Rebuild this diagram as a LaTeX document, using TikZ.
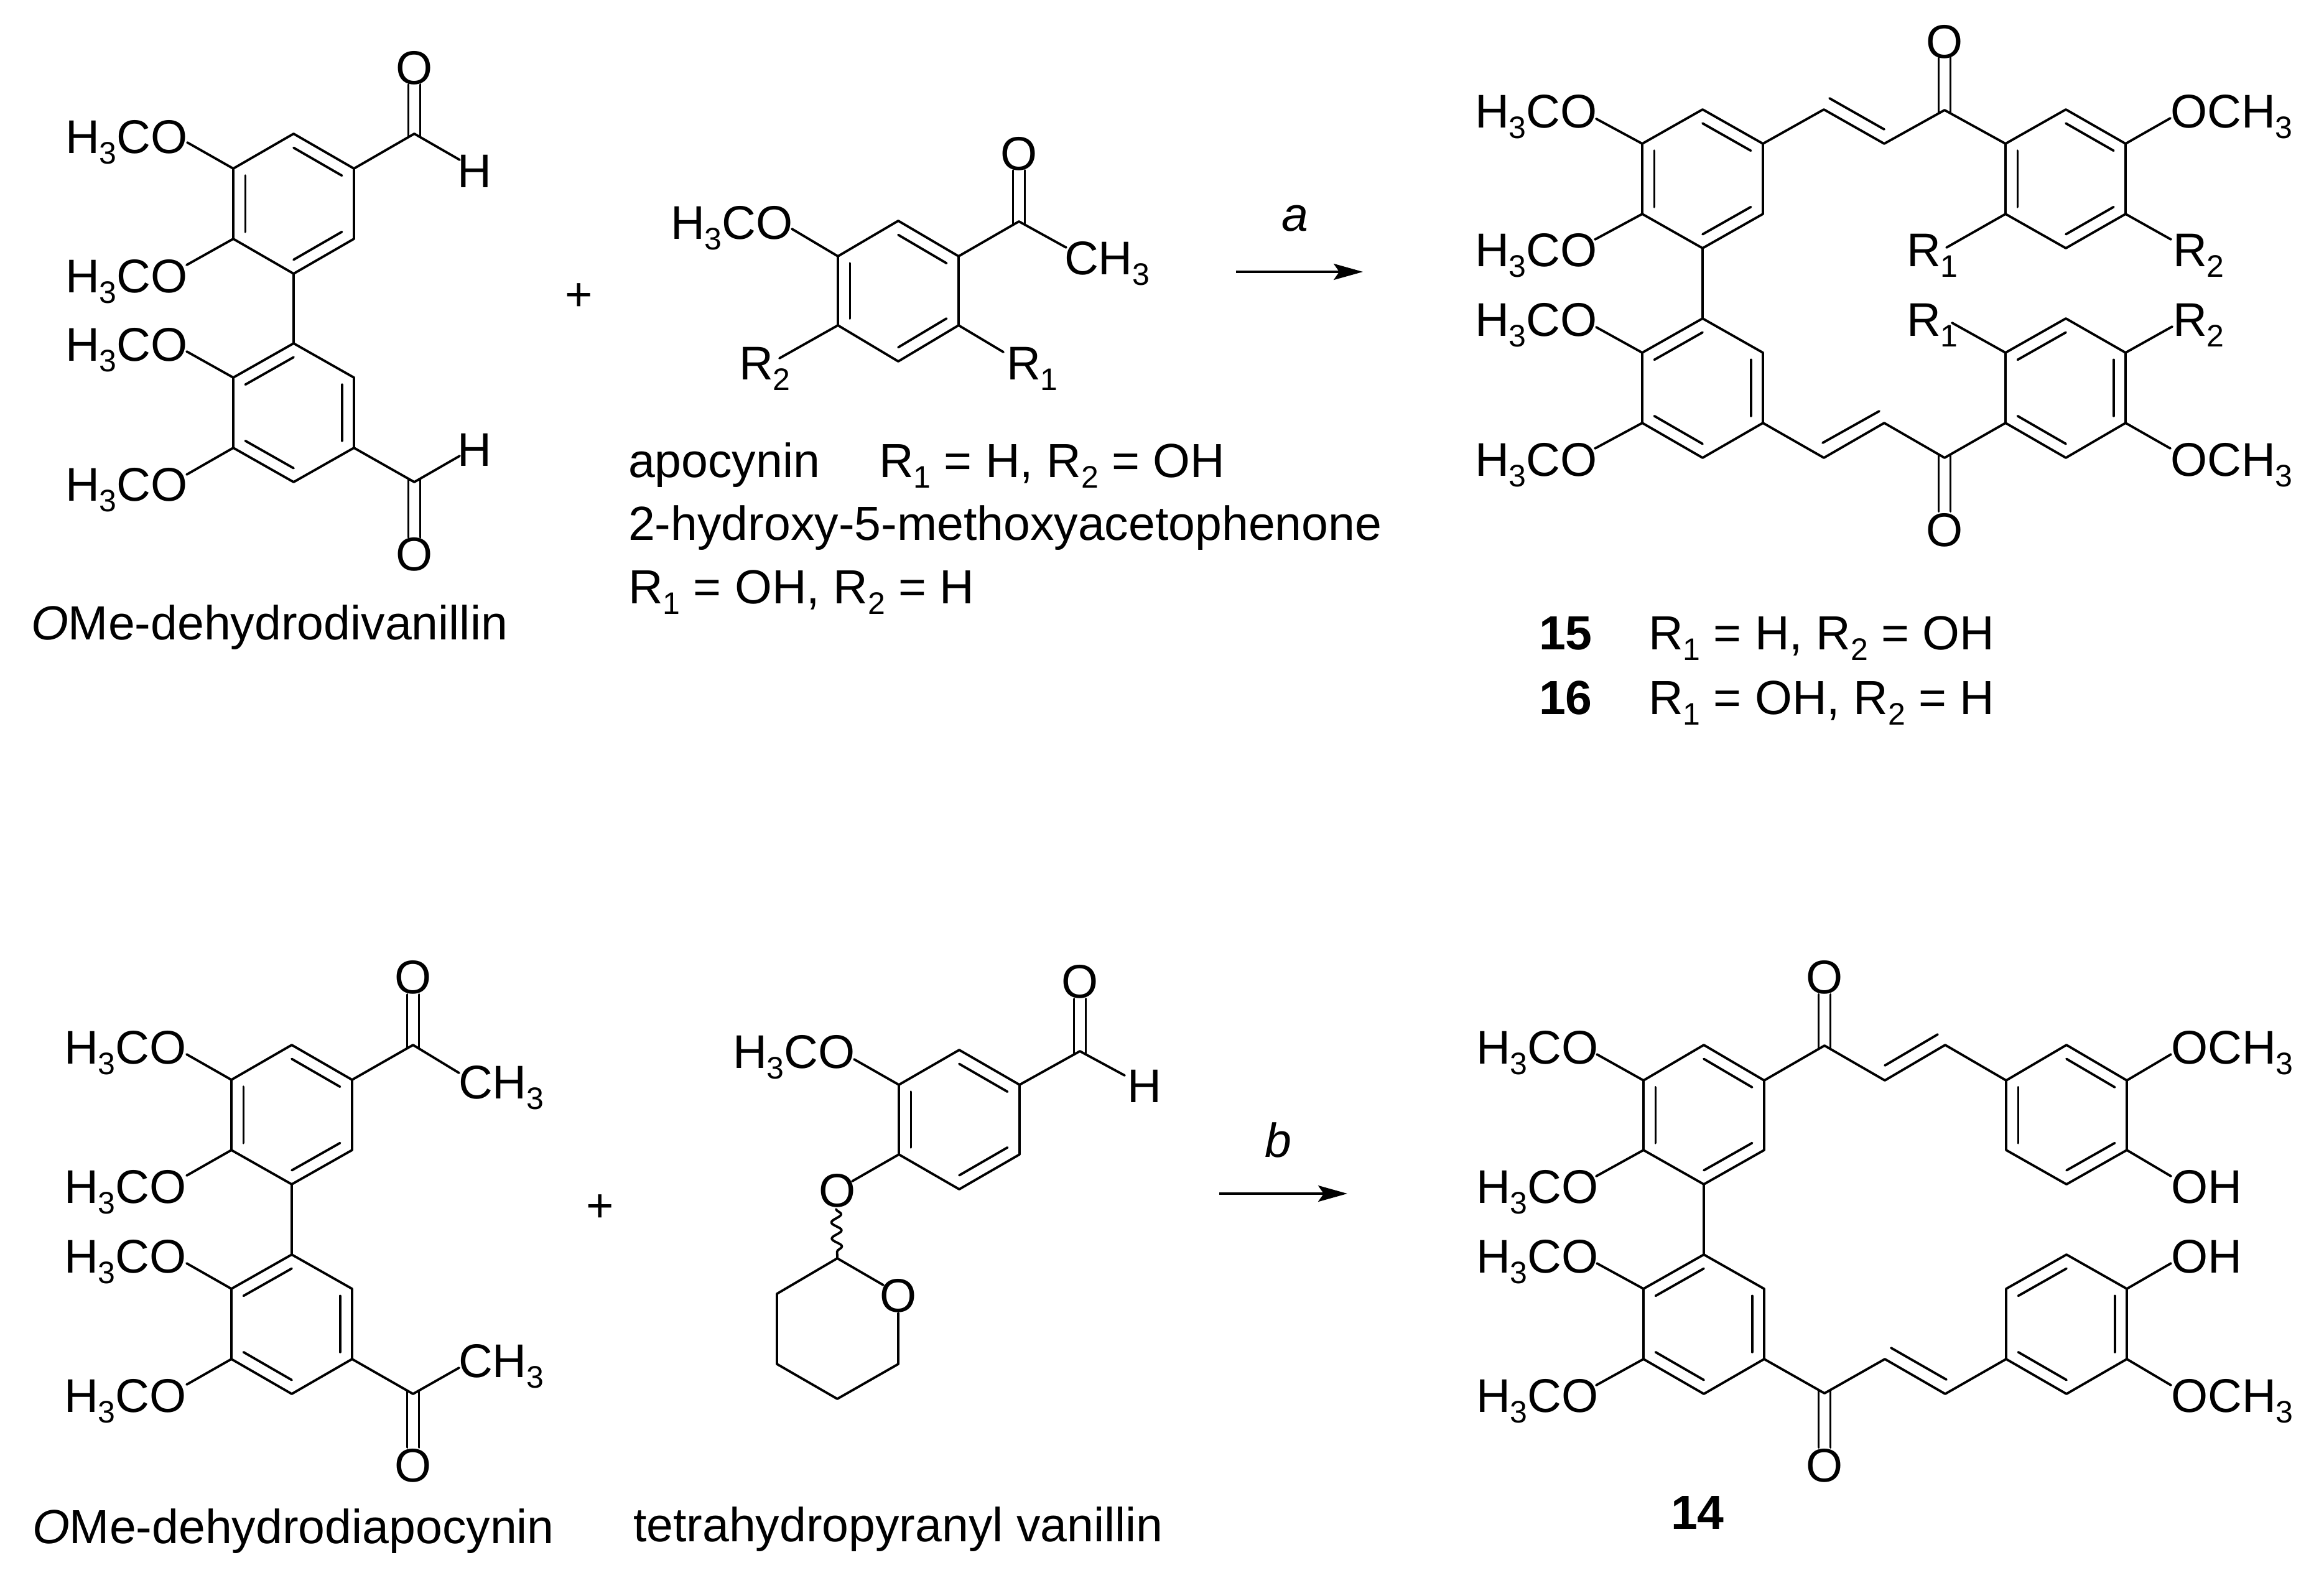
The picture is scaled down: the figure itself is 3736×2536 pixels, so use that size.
\documentclass[tikz,border=0pt]{standalone}
\usepackage{fontspec}
\setmainfont{Liberation Sans}
\usetikzlibrary{calc,arrows.meta,decorations.pathmorphing}
\newcommand{\subn}[1]{\raisebox{-17pt}{\fontsize{50}{50}\selectfont #1}}
\newcommand{\MeO}{H\subn{3}CO}
\newcommand{\OMe}{OCH\subn{3}}
\newcommand{\Rone}{R\subn{1}}
\newcommand{\Rtwo}{R\subn{2}}
\newcommand{\hexa}[8]{%
  \coordinate (#11) at (#3,#5);\coordinate (#12) at (#4,#6);\coordinate (#13) at (#4,#7);
  \coordinate (#14) at (#3,#8);\coordinate (#15) at (#2,#7);\coordinate (#16) at (#2,#6);
  \coordinate (#1c) at ({#3},{(#5+#8)/2});
  \draw[bond] (#11)--(#12)--(#13)--(#14)--(#15)--(#16)--cycle;}
\newcommand{\rdb}[3]{\draw[bond] ($(#1#2)!0.2!(#1c)$) -- ($(#1#3)!0.2!(#1c)$);}
\newcommand{\threedb}[1]{\rdb{#1}{1}{2}\rdb{#1}{6}{5}\rdb{#1}{3}{4}}
\newcommand{\threedc}[1]{\rdb{#1}{1}{6}\rdb{#1}{2}{3}\rdb{#1}{4}{5}}
\newcommand{\lab}[4]{\node[lab] (#1) at (#2,#3) {#4};}
\newcommand{\atom}[4]{\node[atm] (#1) at (#2,#3) {#4};}
\newcommand{\pnt}[3]{\coordinate (#1) at (#2,#3);}
\newcommand{\bnd}[4]{\coordinate (#1) at (#2,#3);\draw[bond] (#1) -- (#4);}
% C=O: carbon, name of free end, x, y of free end, y offset at the carbon
\newcommand{\carb}[5]{\coordinate (#2) at (#3,#4);
  \draw[bond] ([shift={(-9.5,#5)}]#1) -- ([shift={(-9.5,0)}]#2);
  \draw[bond] ([shift={(9.5,#5)}]#1) -- ([shift={(9.5,0)}]#2);}
\tikzset{
  bond/.style={line width=3.8pt,line join=round,line cap=round,black},
  lab/.style={anchor=base west,inner sep=0pt,outer sep=0pt,font=\fontsize{76}{80}\selectfont},
  captxt/.style={anchor=base west,inner sep=0pt,outer sep=0pt,font=\fontsize{77}{80}\selectfont},
  atm/.style={anchor=center,inner sep=0pt,outer sep=0pt,font=\fontsize{76}{80}\selectfont},
  rxn/.style={line width=3.8pt,-{Stealth[length=47pt,width=26pt,inset=9pt]}},
}
\begin{document}
\begin{tikzpicture}[x=1pt,y=-1pt]
\useasboundingbox (0,0) rectangle (3736,2536);
% ---------- OMe-dehydrodivanillin ----------
\hexa{a}{375}{472}{569}{215}{271}{384}{440}\threedb{a}
\hexa{b}{375}{472}{569}{552}{607}{720}{775}\threedc{b}
\draw[bond] (a4) -- (b1);
\lab{a1t}{105}{246}{\MeO}\lab{a2t}{105}{470}{\MeO}\lab{a3t}{105}{580}{\MeO}\lab{a4t}{105}{805}{\MeO}
\bnd{ae1}{301}{229}{a6}\bnd{ae2}{300}{426}{a5}\bnd{ae3}{300}{565}{b6}\bnd{ae4}{300}{763}{b5}
\pnt{ac1}{666}{215}\pnt{ac2}{666}{775}
\draw[bond] (a2) -- (ac1); \draw[bond] (b3) -- (ac2);
\carb{ac1}{ace1}{666}{136}{5}\carb{ac2}{ace2}{666}{864}{-5}
\atom{aO1}{666}{109}{O}\atom{aO2}{666}{891}{O}
\atom{aH1}{763}{275}{H}\atom{aH2}{763}{723}{H}
\bnd{ah1}{739}{257}{ac1}\bnd{ah2}{739}{733}{ac2}
\node[captxt] (acap) at (50,1028) {\textit{O}Me-dehydrodivanillin};
\node[atm] (plus1) at (931,478) {+};
% ---------- apocynin ----------
\hexa{c}{1347}{1444}{1541}{355}{412}{523}{581}\threedb{c}
\pnt{cc}{1638}{356}\draw[bond] (c2) -- (cc);
\carb{cc}{cce}{1638}{274}{5}\atom{cO}{1638}{247}{O}
\lab{cm}{1711}{441}{CH\subn{3}}\bnd{cme}{1714}{398}{cc}
\lab{cmo}{1078}{384}{\MeO}\bnd{cmoe}{1273}{368}{c6}
\lab{cr2}{1188}{610}{\Rtwo}\bnd{cr2e}{1253}{576}{c5}
\lab{cr1}{1618}{610}{\Rone}\bnd{cr1e}{1613}{566}{c3}
\node[captxt] (ct1) at (1010,767) {apocynin};
\node[captxt] (ct2) at (1413,767) {\Rone{} = H, \Rtwo{} = OH};
\node[captxt] (ct3) at (1010,868) {2-hydroxy-5-methoxyacetophenone};
\node[captxt] (ct4) at (1010,970) {\Rone{} = OH, \Rtwo{} = H};
% ---------- arrow a ----------
\node[captxt,anchor=base] (ra) at (2082,371) {\textit{a}};
\pnt{ra1}{1987}{437}\pnt{ra2}{2191}{437}\draw[rxn] (ra1) -- (ra2);
% ---------- 15/16 ----------
\hexa{d}{2640}{2737}{2834}{176}{231}{344}{399}\threedb{d}
\hexa{e}{2640}{2737}{2834}{512}{567}{680}{736}\threedc{e}
\draw[bond] (d4) -- (e1);
\hexa{f}{3224}{3321}{3417}{176}{231}{344}{399}\threedb{f}
\hexa{g}{3224}{3321}{3417}{512}{567}{680}{736}\threedc{g}
\pnt{d7}{2932}{176}\pnt{d8}{3029}{231}\pnt{d9}{3126}{177}
\draw[bond] (d2)--(d7)--(d8)--(d9)--(f6);
\pnt{d7i}{2941}{158}\pnt{d8i}{3029}{208}\draw[bond] (d7i) -- (d8i);
\carb{d9}{d9e}{3126}{93}{5}\atom{dO}{3126}{67}{O}
\pnt{e7}{2932}{736}\pnt{e8}{3029}{680}\pnt{e9}{3126}{736}
\draw[bond] (e3)--(e7)--(e8)--(e9)--(g5);
\pnt{e7i}{2930}{712}\pnt{e8i}{3021}{661}\draw[bond] (e7i) -- (e8i);
\carb{e9}{e9e}{3126}{822}{-5}\atom{eO}{3126}{852}{O}
\lab{d1t}{2371}{205}{\MeO}\lab{d2t}{2371}{428}{\MeO}\lab{d3t}{2371}{540}{\MeO}\lab{d4t}{2371}{765}{\MeO}
\bnd{de1}{2566}{191}{d6}\bnd{de2}{2564}{385}{d5}\bnd{de3}{2566}{526}{e6}\bnd{de4}{2564}{721}{e5}
\lab{f1t}{3489}{205}{\OMe}\lab{g1t}{3489}{765}{\OMe}
\bnd{fe1}{3489}{190}{f2}\bnd{ge1}{3489}{721}{g3}
\lab{fr1}{3065}{428}{\Rone}\lab{fr2}{3493}{428}{\Rtwo}\lab{gr1}{3065}{540}{\Rone}\lab{gr2}{3493}{540}{\Rtwo}
\bnd{fr1e}{3129}{398}{f5}\bnd{fr2e}{3490}{385}{f3}\bnd{gr1e}{3138}{519}{g6}\bnd{gr2e}{3492}{525}{g2}
\node[captxt,font=\fontsize{77}{80}\selectfont\bfseries] (n15) at (2474,1044) {15};
\node[captxt,font=\fontsize{77}{80}\selectfont\bfseries] (n16) at (2474,1148) {16};
\node[captxt] (t15) at (2650,1044) {\Rone{} = H, \Rtwo{} = OH};
\node[captxt] (t16) at (2650,1148) {\Rone{} = OH, \Rtwo{} = H};
% ---------- OMe-dehydrodiapocynin ----------
\hexa{h}{372}{469}{566}{1680}{1736}{1849}{1904}\threedb{h}
\hexa{i}{372}{469}{566}{2017}{2072}{2185}{2241}\threedc{i}
\draw[bond] (h4) -- (i1);
\lab{h1t}{103}{1710}{\MeO}\lab{h2t}{103}{1934}{\MeO}\lab{h3t}{103}{2046}{\MeO}\lab{h4t}{103}{2270}{\MeO}
\bnd{he1}{300}{1695}{h6}\bnd{he2}{300}{1890}{h5}\bnd{he3}{300}{2031}{i6}\bnd{he4}{300}{2226}{i5}
\pnt{hc1}{664}{1680}\pnt{hc2}{664}{2241}
\draw[bond] (h2) -- (hc1); \draw[bond] (i3) -- (hc2);
\carb{hc1}{hce1}{664}{1599}{5}\carb{hc2}{hce2}{664}{2327}{-5}
\atom{hO1}{664}{1571}{O}\atom{hO2}{664}{2356}{O}
\lab{hm1}{737}{1766}{CH\subn{3}}\lab{hm2}{737}{2214}{CH\subn{3}}
\bnd{hm1e}{738}{1725}{hc1}\bnd{hm2e}{738}{2199}{hc2}
\node[captxt] (hcap) at (52,2481) {\textit{O}Me-dehydrodiapocynin};
\node[atm] (plus2) at (965,1943) {+};
% ---------- tetrahydropyranyl vanillin ----------
\hexa{j}{1445}{1542}{1639}{1688}{1744}{1856}{1912}\threedb{j}
\pnt{jc}{1736}{1690}\draw[bond] (j2) -- (jc);
\carb{jc}{jce}{1736}{1606}{5}\atom{jO1}{1736}{1578}{O}
\lab{jH}{1812}{1772}{H}\bnd{jHe}{1808}{1729}{jc}
\lab{jm}{1178}{1717}{\MeO}\bnd{jme}{1373}{1703}{j6}
\atom{jO2}{1346}{1914}{O}\bnd{jO2e}{1370}{1899}{j5}
\pnt{k1}{1346}{2023}\pnt{k2}{1249}{2080}\pnt{k3}{1249}{2193}\pnt{k4}{1346}{2249}\pnt{k5}{1444}{2193}\pnt{k6}{1444}{2111}\pnt{k7}{1420}{2066}
\draw[bond] (k6)--(k5)--(k4)--(k3)--(k2)--(k1)--(k7);
\atom{kO}{1444}{2083}{O}
\pnt{sq}{1344}{1944}
\draw[bond,decorate,decoration={snake,segment length=26pt,amplitude=8pt}] (sq) -- (k1);
\node[captxt] (jcap) at (1018,2478) {tetrahydropyranyl vanillin};
% ---------- arrow b ----------
\node[captxt,anchor=base] (rb) at (2055,1860) {\textit{b}};
\pnt{rb1}{1960}{1919}\pnt{rb2}{2166}{1919}\draw[rxn] (rb1) -- (rb2);
% ---------- 14 ----------
\hexa{l}{2642}{2739}{2836}{1680}{1737}{1849}{1904}\threedb{l}
\hexa{m}{2642}{2739}{2836}{2017}{2072}{2185}{2241}\threedc{m}
\draw[bond] (l4) -- (m1);
\hexa{n}{3225}{3322}{3419}{1680}{1737}{1849}{1904}\threedb{n}
\hexa{o}{3225}{3322}{3419}{2017}{2072}{2185}{2241}\threedc{o}
\pnt{l7}{2933}{1681}\pnt{l8}{3030}{1737}\pnt{l9}{3127}{1680}
\draw[bond] (l2)--(l7)--(l8)--(l9)--(n6);
\pnt{l8i}{3030}{1713}\pnt{l9i}{3115}{1663}\draw[bond] (l8i) -- (l9i);
\carb{l7}{l7e}{2933}{1599}{5}\atom{lO}{2933}{1571}{O}
\pnt{m7}{2933}{2240}\pnt{m8}{3030}{2185}\pnt{m9}{3127}{2241}
\draw[bond] (m3)--(m7)--(m8)--(m9)--(o5);
\pnt{m8i}{3040}{2167}\pnt{m9i}{3129}{2218}\draw[bond] (m8i) -- (m9i);
\carb{m7}{m7e}{2933}{2327}{-5}\atom{mO}{2933}{2356}{O}
\lab{l1t}{2373}{1710}{\MeO}\lab{l2t}{2373}{1934}{\MeO}\lab{l3t}{2373}{2046}{\MeO}\lab{l4t}{2373}{2270}{\MeO}
\bnd{le1}{2567}{1695}{l6}\bnd{le2}{2566}{1891}{l5}\bnd{le3}{2567}{2031}{m6}\bnd{le4}{2566}{2227}{m5}
\lab{n1t}{3490}{1710}{\OMe}\lab{n2t}{3490}{1934}{OH}\lab{o1t}{3490}{2046}{OH}\lab{o2t}{3490}{2270}{\OMe}
\bnd{ne1}{3490}{1695}{n2}\bnd{ne2}{3490}{1891}{n3}\bnd{oe1}{3490}{2031}{o2}\bnd{oe2}{3490}{2227}{o3}
\node[captxt,font=\fontsize{77}{80}\selectfont\bfseries] (n14) at (2686,2458) {14};
\end{tikzpicture}
\end{document}
